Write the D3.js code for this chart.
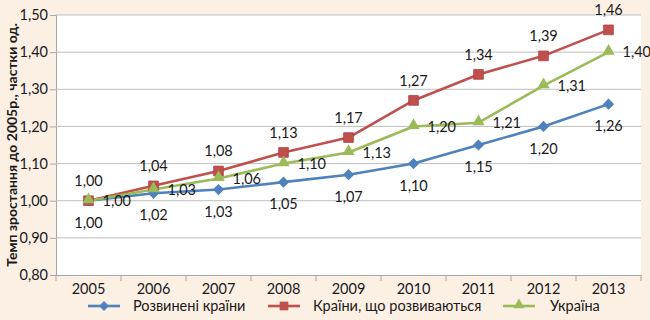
<!DOCTYPE html>
<html><head><meta charset="utf-8">
<script src="https://cdn.jsdelivr.net/npm/d3@7/dist/d3.min.js"></script>
<style>
html,body{margin:0;padding:0;background:#FCEFE4;}
svg{display:block;}
text{font-family:Lato,"Open Sans",sans-serif;fill:#1a1a1a;}
</style></head>
<body>
<svg id="c" width="650" height="320"></svg>
<script>
const years = ["2005","2006","2007","2008","2009","2010","2011","2012","2013"];
const developed = [1.00,1.02,1.03,1.05,1.07,1.10,1.15,1.20,1.26];
const developing = [1.00,1.04,1.08,1.13,1.17,1.27,1.34,1.39,1.46];
const ukraine = [1.00,1.03,1.06,1.10,1.13,1.20,1.21,1.31,1.40];
const yTicks = [0.8,0.9,1.0,1.1,1.2,1.3,1.4,1.5];
const seriesNames = ["Розвинені країни","Країни, що розвиваються","Україна"];
const yTitle = "Темп зростання до 2005р., частки од.";

const svg = d3.select("#c");
const L=56, R=641, T=15, B=275;
const x = d3.scaleBand().domain(years).range([L,R]).padding(0);
const y = d3.scaleLinear().domain([0.8,1.5]).range([B,T]);
const fmt = v => d3.format(".2f")(v).replace(".", ",");

svg.append("rect").attr("x",L).attr("y",T).attr("width",R-L).attr("height",B-T).attr("fill","#fff");

// gridlines + y axis
const yAxis = d3.axisLeft(y).tickValues(yTicks).tickSize(6).tickPadding(2).tickFormat(fmt);
const gy = svg.append("g").attr("transform",`translate(${L},0)`).call(yAxis);
gy.select(".domain").attr("stroke","#A6A6A6");
gy.selectAll(".tick line").attr("stroke","#A6A6A6");
gy.selectAll(".tick text").attr("font-size",14.5).attr("font-family","Lato").attr("fill","#1a1a1a");
svg.append("g").selectAll("line").data(yTicks.slice(1)).join("line")
  .attr("x1",L).attr("x2",R).attr("y1",d=>y(d)).attr("y2",d=>y(d))
  .attr("stroke","#BFBFBF").attr("stroke-width",1);

// x axis
const xAxis = d3.axisBottom(x).tickSize(0).tickPadding(9);
const gx = svg.append("g").attr("transform",`translate(0,${B})`).call(xAxis);
gx.select(".domain").attr("stroke","#A6A6A6");
gx.selectAll(".tick text").attr("font-size",14.5).attr("font-family","Lato").attr("fill","#1a1a1a");
// boundary ticks
const bounds = years.map(d=>x(d)).concat([R]);
svg.append("g").selectAll("line").data(bounds).join("line")
  .attr("x1",d=>d).attr("x2",d=>d).attr("y1",B).attr("y2",B+6).attr("stroke","#A6A6A6");

// y title
svg.append("text").attr("transform",`translate(17,${(T+B)/2}) rotate(-90)`)
  .attr("text-anchor","middle").attr("font-size",14).attr("font-weight","bold")
  .attr("font-family","'Open Sans',sans-serif").text(yTitle);

const cx = d => x(d)+x.bandwidth()/2;
const colors = ["#4F81BD","#C0504D","#9BBB59"];
const datas = [developed,developing,ukraine];
const symbols = [d3.symbolDiamond2, d3.symbolSquare2, d3.symbolTriangle2];
const symSizes = [80,120,110];

const line = d3.line().x((d,i)=>cx(years[i])).y(d=>y(d));
datas.forEach((data,k)=>{
  svg.append("path").datum(data).attr("d",line).attr("fill","none")
    .attr("stroke",colors[k]).attr("stroke-width",2.6).attr("stroke-linejoin","round");
});
datas.forEach((data,k)=>{
  const sym = d3.symbol().type(symbols[k]).size(symSizes[k]);
  svg.append("g").selectAll("path").data(data).join("path")
    .attr("d",sym).attr("transform",(d,i)=>`translate(${cx(years[i])},${y(d)+(k==2?-1:0)})`)
    .attr("fill",colors[k]).attr("stroke",k==1?"#B0403D":colors[k]).attr("stroke-width",k==1?0.8:0);
});
// labels
const lab = svg.append("g").attr("font-size",14.5);
// developed below
lab.selectAll(".ld").data(developed).join("text")
  .attr("x",(d,i)=>cx(years[i])).attr("y",d=>y(d)+22).attr("dy","0.35em")
  .attr("text-anchor","middle").text(fmt);
// developing above
lab.selectAll(".lr").data(developing).join("text")
  .attr("x",(d,i)=>cx(years[i])).attr("y",d=>y(d)-20).attr("dy","0.35em")
  .attr("text-anchor","middle").text(fmt);
// ukraine right
lab.selectAll(".lu").data(ukraine).join("text")
  .attr("x",(d,i)=>cx(years[i])+14).attr("y",d=>y(d)).attr("dy","0.35em")
  .attr("text-anchor","start").text(fmt);

// legend
const legX = [88,268,503];
const leg = svg.append("g");
seriesNames.forEach((n,k)=>{
  const g = leg.append("g").attr("transform",`translate(${legX[k]},306)`);
  g.append("line").attr("x1",0).attr("x2",32).attr("stroke",colors[k]).attr("stroke-width",2.6);
  g.append("path").attr("d",d3.symbol().type(symbols[k]).size(symSizes[k]*0.8)).attr("transform",`translate(16,${k==2?-1:0})`).attr("fill",colors[k]);
  g.append("text").attr("x",[45,45,47][k]).attr("dy","0.35em").attr("font-size",14.5).text(n);
});
</script>
</body></html>
